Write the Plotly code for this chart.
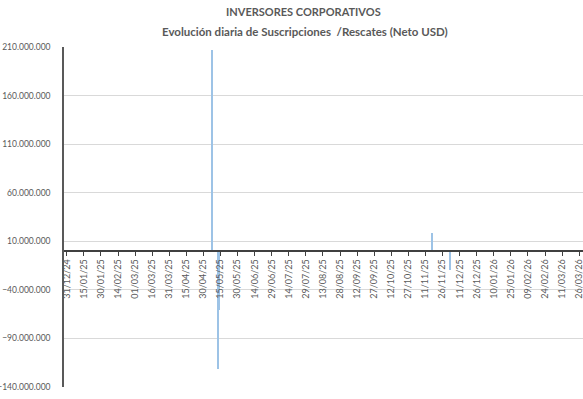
import plotly.graph_objects as go

# Daily net subscriptions / redemptions (USD), corporate investors
fechas = ["2025-05-08", "2025-05-13", "2025-05-14", "2025-11-17", "2025-12-03"]
neto_usd = [207_000_000, -121_000_000, -61_000_000, 19_000_000, -20_000_000]

y_ticks = [-140_000_000, -90_000_000, -40_000_000, 10_000_000,
           60_000_000, 110_000_000, 160_000_000, 210_000_000]
y_min, y_max = -140_000_000, 210_000_000

gris = "#595959"
font_fam = "Lato, 'Open Sans', sans-serif"

fig = go.Figure()
fig.add_trace(go.Bar(
    x=fechas,
    y=neto_usd,
    width=86_400_000,
    marker=dict(color="#9DC3E6", line=dict(width=0)),
))

fig.update_layout(
    width=583,
    height=399,
    margin=dict(l=64, r=0, t=47, b=12),
    paper_bgcolor="white",
    plot_bgcolor="white",
    separators=",.",
    showlegend=False,
    bargap=0,
    font=dict(family=font_fam, color=gris, size=9),
    xaxis=dict(
        type="date",
        automargin=False,
        range=["2024-12-28 14:00", "2026-03-29 08:00"],
        tick0="2024-12-31",
        dtick=15 * 86_400_000,
        tickformat="%d/%m/%y",
        tickangle=-90,
        ticks="outside",
        ticklen=4,
        tickcolor="#404040",
        tickwidth=1,
        ticklabeloverflow="allow",
        showline=True,
        linecolor="#404040",
        linewidth=1.5,
        showgrid=False,
        zeroline=False,
        anchor="free",
        position=(0 - y_min) / (y_max - y_min),
        tickfont=dict(size=9, color=gris),
    ),
    yaxis=dict(
        automargin=False,
        range=[y_min, y_max],
        tickvals=y_ticks,
        tickformat=",d",
        showgrid=True,
        gridcolor="#D9D9D9",
        gridwidth=1,
        zeroline=False,
        showline=True,
        linecolor="#595959",
        linewidth=1.5,
        ticks="",
        ticklabelstandoff=10,
        tickfont=dict(size=8.5, color=gris),
    ),
    annotations=[
        dict(text="<b>INVERSORES CORPORATIVOS</b>", xref="paper", yref="paper",
             x=(303 - 64) / 519, y=(387 - 12) / 340, xanchor="center", yanchor="middle",
             showarrow=False, font=dict(size=11, color=gris, family=font_fam)),
        dict(text="<b>Evolución diaria de Suscripciones  /Rescates (Neto USD)</b>",
             xref="paper", yref="paper",
             x=(305 - 64) / 519, y=(387 - 32) / 340, xanchor="center", yanchor="middle",
             showarrow=False, font=dict(size=11.5, color=gris, family=font_fam)),
    ],
)

fig.write_html("out.html")
